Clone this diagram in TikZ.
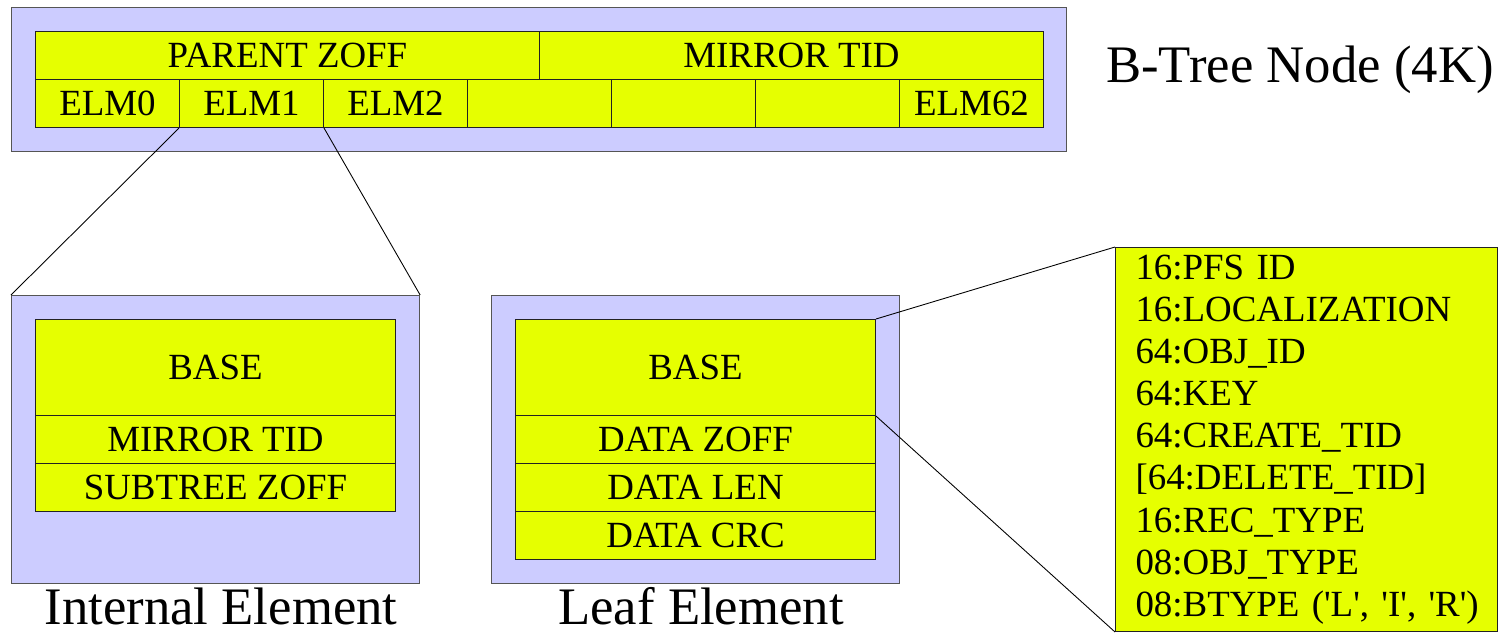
\documentclass[tikz,border=0pt]{standalone}
\usepackage{fontspec}
\setmainfont{Liberation Serif}
\usepackage{xcolor}
\usepackage{tikz}
\usetikzlibrary{calc}
\definecolor{lavender}{HTML}{CCCCFF}
\definecolor{fieldyel}{HTML}{E6FF00}
\definecolor{framegray}{HTML}{555555}
\definecolor{cellline}{HTML}{222222}
\tikzset{
  frame/.style={draw=framegray, fill=lavender, line width=0.7pt, inner sep=0pt, anchor=north west},
  cell/.style={draw=cellline, fill=fieldyel, line width=0.6pt, inner sep=0pt, anchor=north west,
    font=\fontsize{21}{24}\selectfont},
  wide/.style={minimum width=10.08cm, minimum height=0.96cm},
  slot/.style={minimum width=2.88cm, minimum height=0.96cm},
  row/.style={minimum width=7.2cm, minimum height=0.96cm},
  caption/.style={inner sep=0pt, anchor=base, font=\fontsize{30}{36}\selectfont},
  zoomline/.style={draw=black, line width=0.5pt}
}
\newcommand{\ElemFrame}[2]{% name, x
  \node[frame, minimum width=8.16cm, minimum height=5.76cm] (#1) at (#2,295) {};
}
\newcommand{\sq}{\textquotesingle}

\begin{document}
\begin{tikzpicture}[x=0.02cm, y=-0.02cm]
  \useasboundingbox (0,0) rectangle (1499,633);

  % the 4K node
  \node[frame, minimum width=21.1cm, minimum height=2.88cm] (btree) at (11,7) {};
  \node[cell, wide] (parent) at (35,31) {PARENT ZOFF};
  \node[cell, wide] (mirror) at (539,31) {MIRROR TID};
  \foreach \i/\t in {0/ELM0, 1/ELM1, 2/ELM2, 3/, 4/, 5/, 6/ELM62}
    \node[cell, slot] (elm\i) at (35+144*\i,79) {\t};
  \node[caption] (title) at (1300,82) {B-Tree Node (4K)};

  % internal element
  \ElemFrame{internal}{11}
  \node[cell, row, minimum height=1.92cm] (ibase) at (35,319) {BASE};
  \node[cell, row] (imirror) at (35,415) {MIRROR TID};
  \node[cell, row] (isubtree) at (35,463) {SUBTREE ZOFF};
  \node[caption] (icap) at (221,624) {Internal Element};

  % leaf element
  \ElemFrame{leaf}{491}
  \node[cell, row, minimum height=1.92cm] (lbase) at (515,319) {BASE};
  \node[cell, row] (ldzoff) at (515,415) {DATA ZOFF};
  \node[cell, row] (ldlen) at (515,463) {DATA LEN};
  \node[cell, row] (ldcrc) at (515,511) {DATA CRC};
  \node[caption] (lcap) at (701,624) {Leaf Element};

  % base record layout
  \node[cell, minimum width=7.64cm, minimum height=7.68cm, text width=6.84cm,
    inner xsep=0.4cm, align=left] (record) at (1115,247)
    {16:PFS ID\\16:LOCALIZATION\\64:OBJ\_ID\\64:KEY\\64:CREATE\_TID\\
     {[}64:DELETE\_TID{]}\\16:REC\_TYPE\\08:OBJ\_TYPE\\
     \mbox{08:BTYPE (\sq L\sq, \sq I\sq, \sq R\sq)}};

  \draw[zoomline] (elm1.south west) -- (internal.north west);
  \draw[zoomline] (elm1.south east) -- (internal.north east);
  \draw[zoomline] (lbase.north east) -- (record.north west);
  \draw[zoomline] (lbase.south east) -- (record.south west);
\end{tikzpicture}
\end{document}
